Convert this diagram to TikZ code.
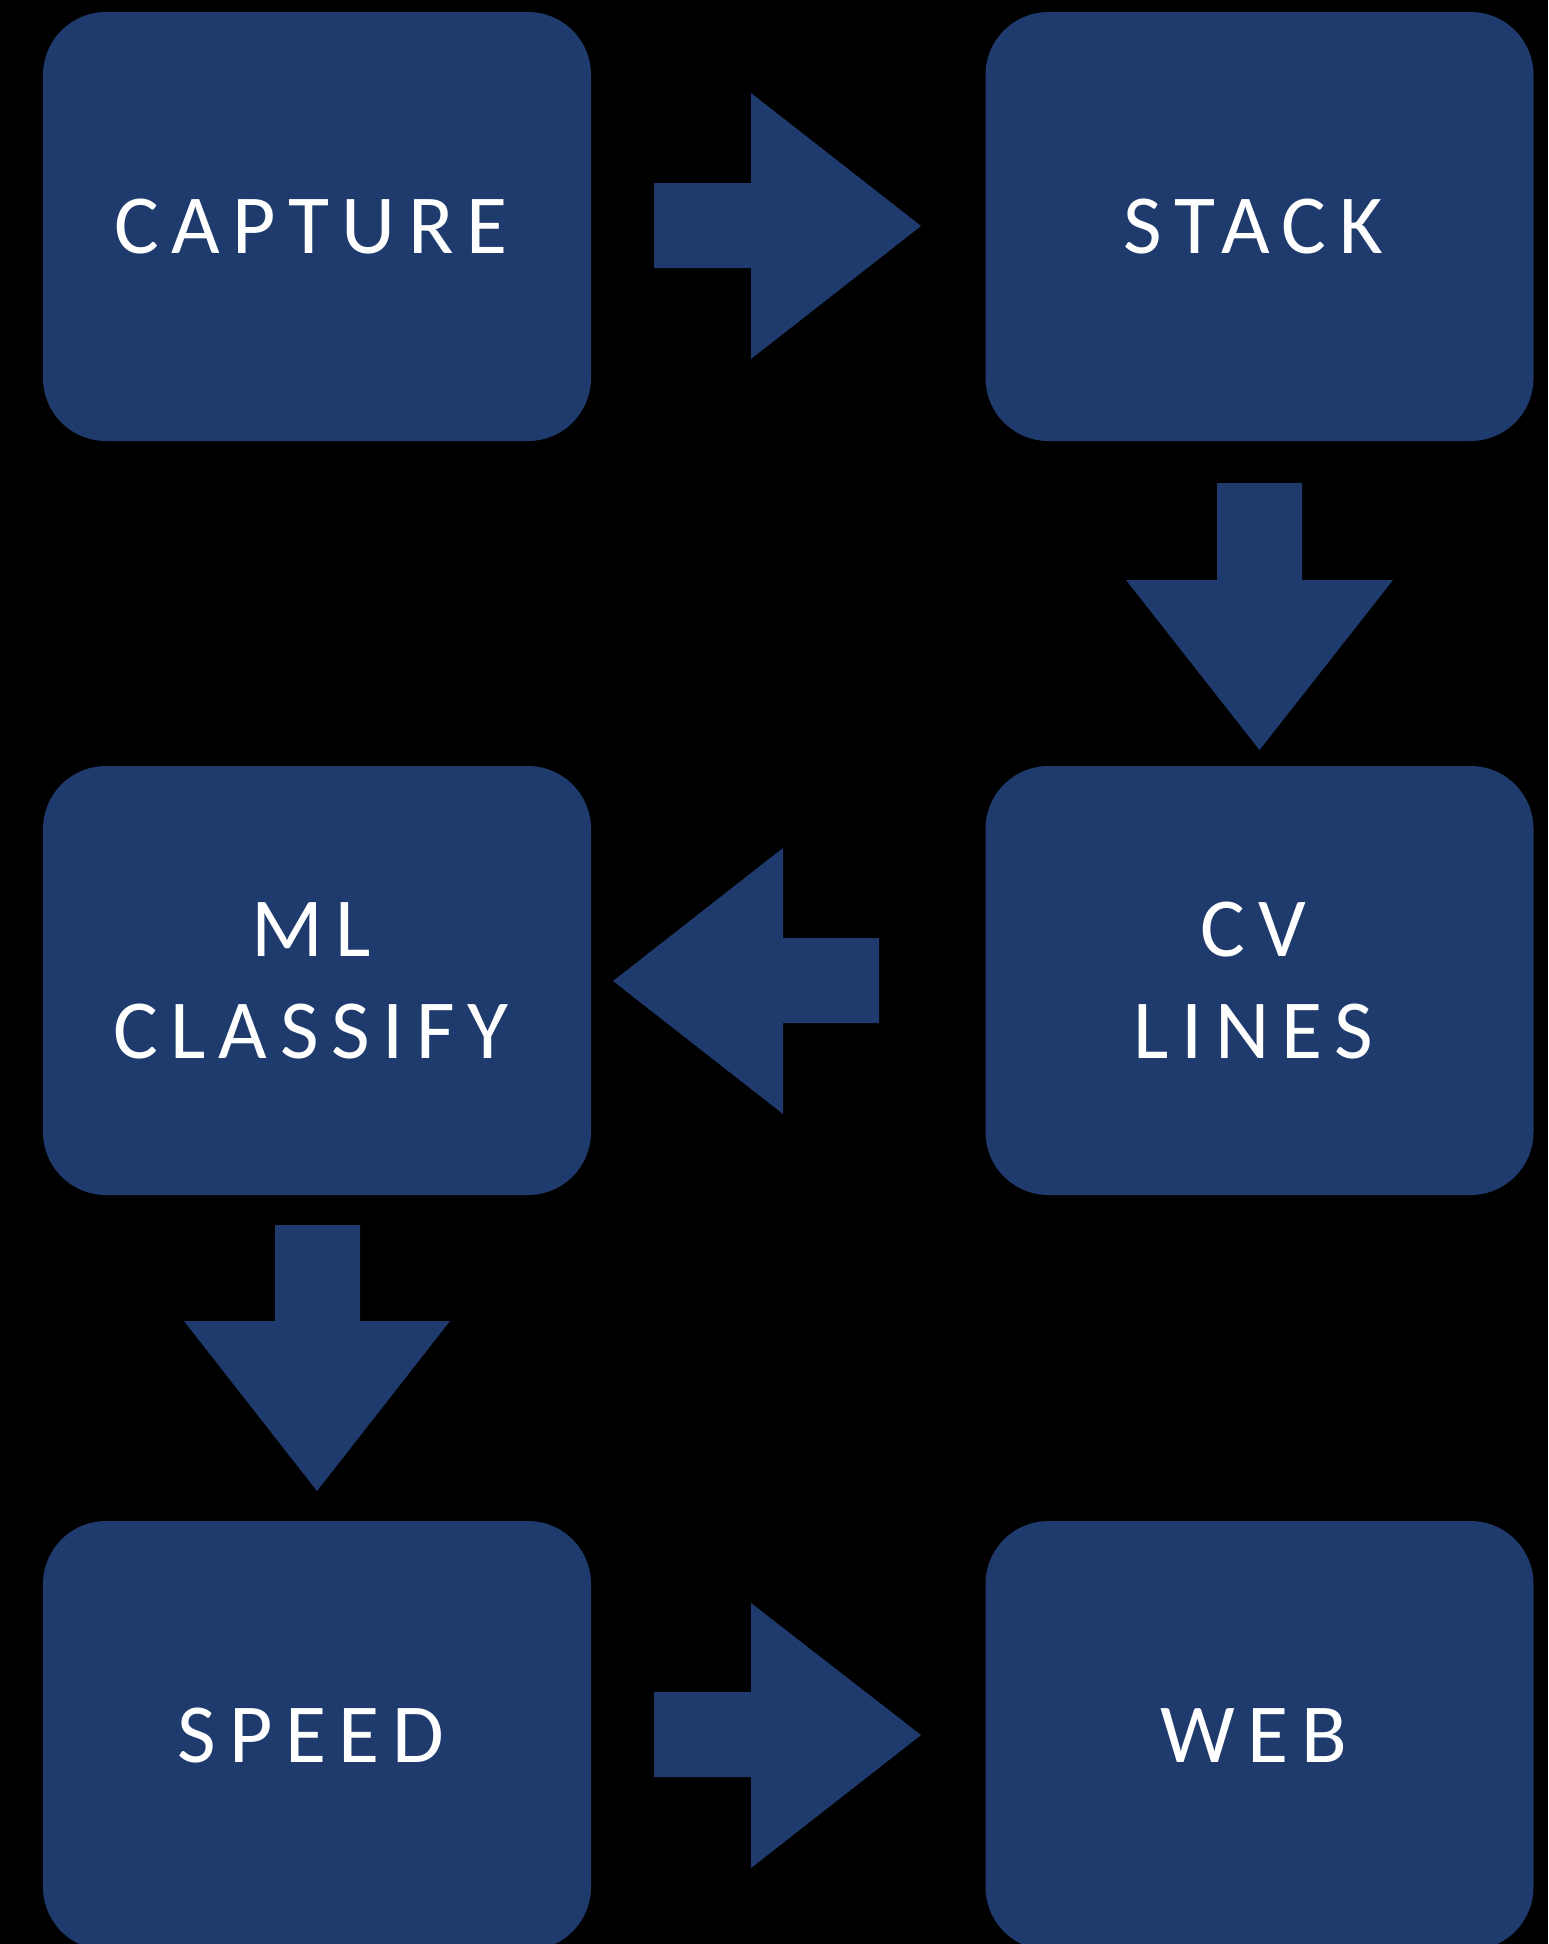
\documentclass[tikz,border=0pt]{standalone}
\usepackage{fontspec}
\newfontfamily\boxfont[LetterSpace=15]{Carlito}
\definecolor{boxblue}{RGB}{31,59,109}
\newcommand{\tr}{\hspace*{12pt}}
\begin{document}
\begin{tikzpicture}[x=1pt,y=-1pt,
  box/.style={fill=boxblue, rounded corners=63pt, minimum width=548pt, minimum height=429pt,
    text=white, align=center, inner sep=0pt, font=\boxfont\fontsize{84}{102}\selectfont},
  blockarrow/.style={fill=boxblue}]
\useasboundingbox (0,0) rectangle (1548,1944);
\clip (0,0) rectangle (1548,1944);
\fill[black] (0,0) rectangle (1548,1944);

\node[box] (capture) at (317,226.5) {CAPTURE\tr};
\node[box] (stack) at (1259.5,226.5) {STACK\tr};
\node[box] (ml) at (317,980.5) {ML\tr\\CLASSIFY\tr};
\node[box] (cv) at (1259.5,980.5) {CV\tr\\LINES\tr};
\node[box] (speed) at (317,1735.5) {SPEED\tr};
\node[box] (web) at (1259.5,1735.5) {WEB\tr};

% capture -> stack
\fill[blockarrow] (654,183) -- (751,183) -- (751,93) -- (921,226) -- (751,359) -- (751,268) -- (654,268) -- cycle;
% stack -> cv
\fill[blockarrow] (1217,483) -- (1302,483) -- (1302,580) -- (1393,580) -- (1259.5,750) -- (1126,580) -- (1217,580) -- cycle;
% cv -> ml
\fill[blockarrow] (879,938) -- (879,1023) -- (783,1023) -- (783,1114) -- (613,981) -- (783,848) -- (783,938) -- cycle;
% ml -> speed
\fill[blockarrow] (275,1225) -- (360,1225) -- (360,1321) -- (450,1321) -- (317,1491) -- (184,1321) -- (275,1321) -- cycle;
% speed -> web
\fill[blockarrow] (654,1692) -- (751,1692) -- (751,1603) -- (921,1735) -- (751,1868) -- (751,1777) -- (654,1777) -- cycle;
\end{tikzpicture}
\end{document}
